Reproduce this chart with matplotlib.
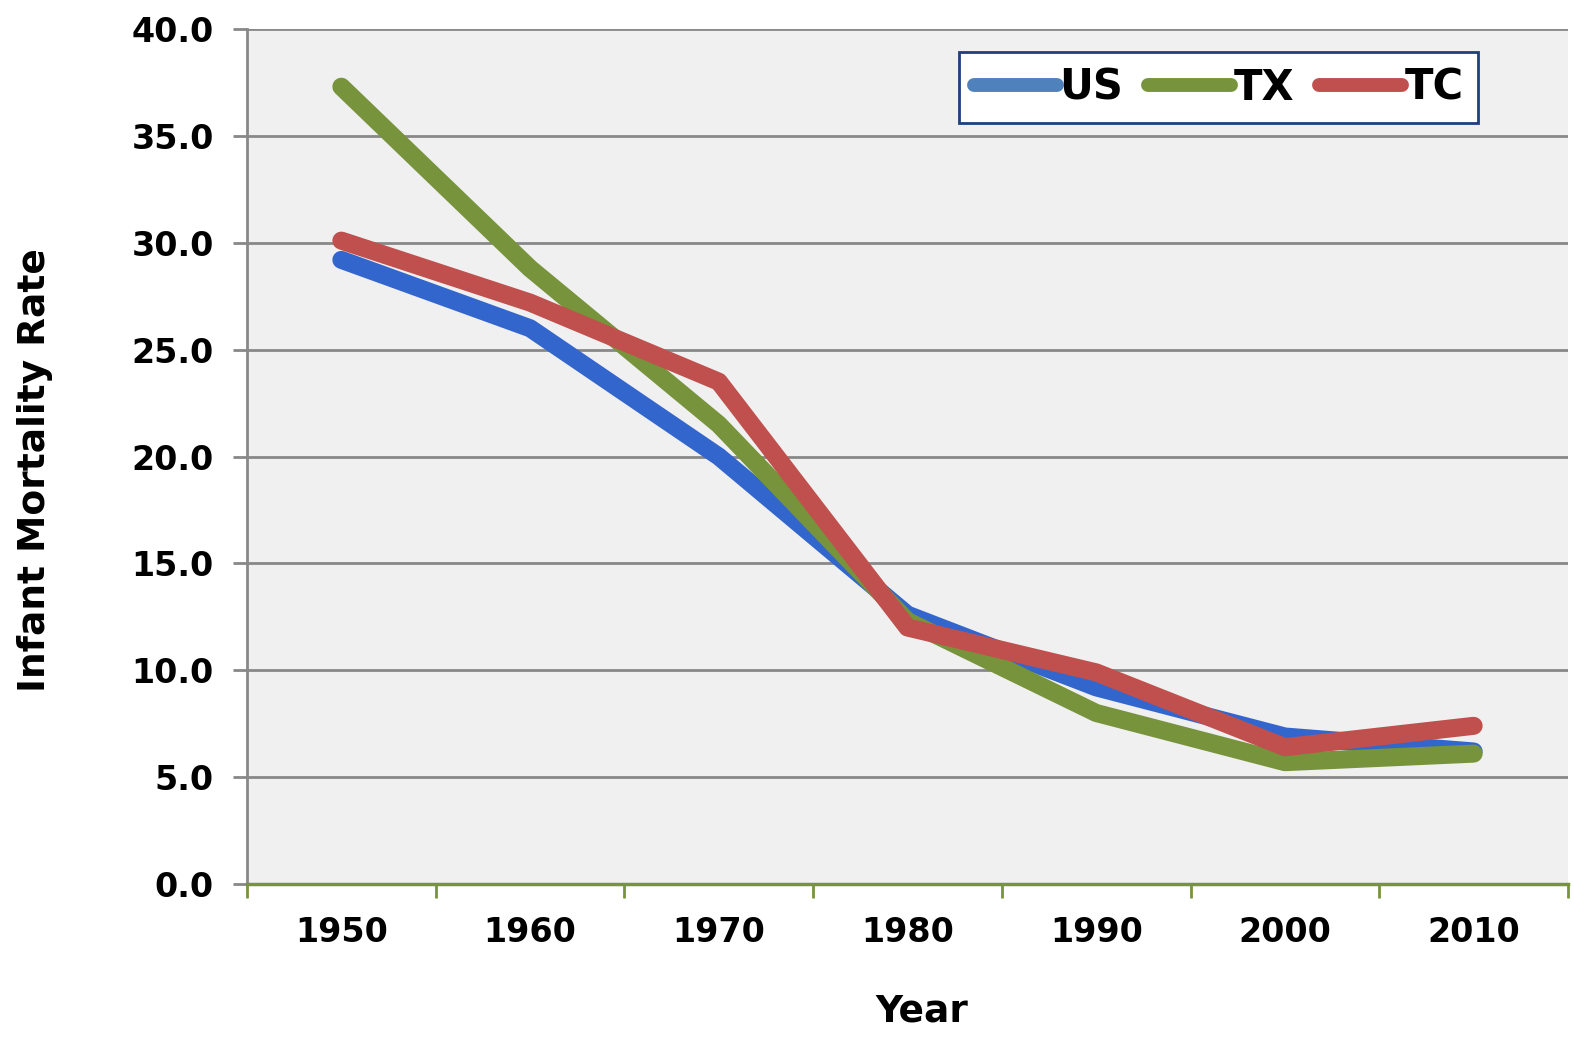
import matplotlib.pyplot as plt
import numpy as np

# dati
years = ["1950", "1960", "1970", "1980", "1990", "2000", "2010"]
us = [29.2, 26.0, 20.0, 12.6, 9.2, 6.9, 6.2]
tx = [37.3, 28.8, 21.5, 12.3, 8.0, 5.7, 6.1]
tc = [30.1, 27.2, 23.5, 12.0, 9.9, 6.4, 7.4]

plt.rcParams["font.family"] = ["DejaVu Sans"]
plt.rcParams["font.weight"] = "bold"

fig = plt.figure(figsize=(15.74, 10.39), dpi=100)
ax = fig.add_axes([247 / 1574, 1 - 884 / 1039, 1321 / 1574, 855 / 1039])
ax.set_facecolor("#F0F0F0")

x = np.arange(len(years))
ax.plot(x, us, color="#3366CC", lw=13, solid_capstyle="round", solid_joinstyle="round", label="US", zorder=3)
ax.plot(x, tx, color="#77933C", lw=13, solid_capstyle="round", solid_joinstyle="round", label="TX", zorder=4)
ax.plot(x, tc, color="#C0504D", lw=13, solid_capstyle="round", solid_joinstyle="round", label="TC", zorder=5)

ax.set_xlim(-0.5, 6.5)
ax.set_ylim(0, 40)
ax.set_yticks(np.arange(0, 41, 5))
ax.set_yticklabels([f"{v:.1f}" for v in np.arange(0, 41, 5)], fontsize=24, fontweight="bold")
ax.set_xticks(np.arange(-0.5, 7, 1))
ax.set_xticklabels([])
ax.set_xticks(x, minor=True)
ax.set_xticklabels(years, minor=True, fontsize=24, fontweight="bold")
ax.tick_params(axis="x", which="minor", length=0, pad=23)
ax.tick_params(axis="x", which="major", length=10, width=2, color="#77933C", direction="out")
ax.tick_params(axis="y", length=10, width=2, color="#888888", pad=14)

ax.grid(axis="y", color="#888888", lw=2)
ax.set_axisbelow(True)
for s in ["top", "right"]:
    ax.spines[s].set_visible(False)
ax.spines["left"].set_color("#888888")
ax.spines["left"].set_linewidth(2)
ax.spines["bottom"].set_color("#77933C")
ax.spines["bottom"].set_linewidth(2.5)
ax.spines["bottom"].set_zorder(6)

ax.set_xlabel("Year", fontsize=27, fontweight="bold")
ax.xaxis.set_label_coords((922 - 247) / 1321, -(1012 - 884) / 855)
ax.xaxis.label.set_va("center")
ax.set_ylabel("Infant Mortality Rate", fontsize=27, fontweight="bold")
ax.yaxis.set_label_coords((35 - 247) / 1321, 1 - (470 - 29) / 855)
ax.yaxis.label.set_va("center")

leg = ax.legend(loc="upper right", bbox_to_anchor=((1478 - 247) / 1321, 1 - (52 - 29) / 855), ncol=3,
                fontsize=30, frameon=True, fancybox=False, framealpha=1, handlelength=2.0,
                handletextpad=0.05, columnspacing=0.6, borderpad=0.35, borderaxespad=0)
leg.get_frame().set_edgecolor("#1F3F7F")
leg.get_frame().set_linewidth(2)
leg.get_frame().set_facecolor("white")
for t in leg.get_texts():
    t.set_fontweight("bold")
for h, c in zip(leg.legend_handles, ["#4F81BD", "#77933C", "#C0504D"]):
    h.set_linewidth(10)
    h.set_color(c)

fig.savefig("out.png", dpi=100)
